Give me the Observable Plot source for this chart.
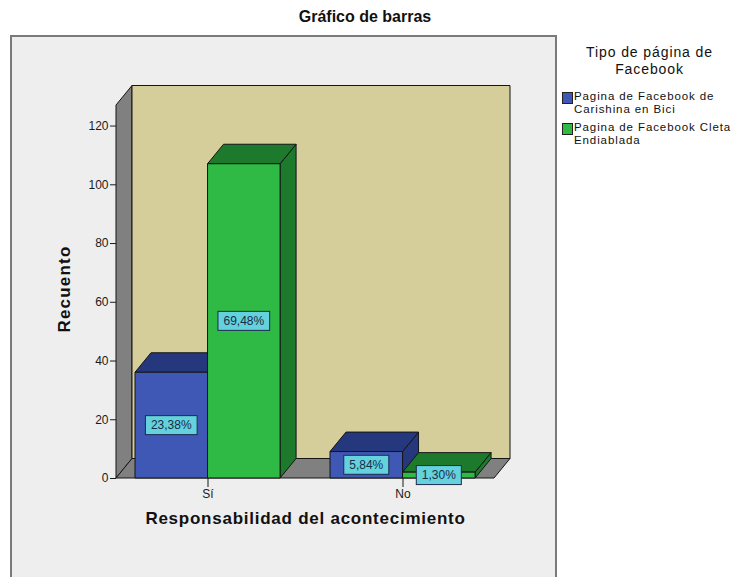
<!DOCTYPE html>
<html>
<head>
<meta charset="utf-8">
<script src="https://cdn.jsdelivr.net/npm/d3@7"></script>
<script src="https://cdn.jsdelivr.net/npm/@observablehq/plot@0.6"></script>
<style>
  body { margin: 0; background: #ffffff; font-family: Arial, "Liberation Sans", sans-serif; }
  #wrap { position: relative; width: 733px; height: 577px; overflow: hidden; background: #ffffff; }
  #frame { position: absolute; left: 10px; top: 35px; width: 547px; height: 580px; background: #eeeeee; border: 2px solid #7a7a7a; box-sizing: border-box; }
  #title { position: absolute; left: 0; width: 730px; top: 8px; text-align: center; font-weight: bold; font-size: 16px; color: #111; }
  #chart { position: absolute; left: 0; top: 0; }
  #legend { position: absolute; left: 560px; top: 44px; width: 173px; color: #111; }
  #legend .ltitle { text-align: center; font-size: 14px; letter-spacing: 0.9px; line-height: 17px; margin-left: 6px; }
  #legend .item { position: relative; margin-top: 5px; height: 26px; }
  #legend .sw { position: absolute; left: 2px; top: 2px; width: 11px; height: 12px; border: 1px solid #222; box-sizing: border-box; }
  #legend .lt { position: absolute; left: 14px; top: 0; font-size: 11.5px; letter-spacing: 0.9px; line-height: 13px; white-space: nowrap; }
</style>
</head>
<body>
<div id="wrap">
  <div id="frame"></div>
  <div id="title">Gráfico de barras</div>
  <div id="chart"></div>
  <div id="legend"></div>
</div>
<script>
// ---- data ----
const categories = ["Sí", "No"];
const seriesNames = ["Pagina de Facebook de Carishina en Bici", "Pagina de Facebook Cleta Endiablada"];
const seriesLines = [["Pagina de Facebook de", "Carishina en Bici"], ["Pagina de Facebook Cleta", "Endiablada"]];
const countsCarishina = [36, 9];
const countsCleta = [107, 2];
const pctCarishina = ["23,38%", "5,84%"];
const pctCleta = ["69,48%", "1,30%"];
const yTicks = [0, 20, 40, 60, 80, 100, 120];
const xTitle = "Responsabilidad del acontecimiento";
const yTitle = "Recuento";
const legendTitle = ["Tipo de página de", "Facebook"];

// ---- styles ----
const frontColors = ["#3f58b6", "#2fba45"];
const darkColors = ["#26387d", "#1d7a2c"];
const wallColor = "#d5ce9b";
const sideWallColor = "#808080";
const labelFill = "#63d2dc";
const DX = 16, DY = -19.5;
const padInner = 0.256, padOuter = 0.095;
const yMax = 127;

const rows = [];
categories.forEach((c, ci) => {
  [countsCarishina, countsCleta].forEach((arr, si) => {
    rows.push({cat: c, s: si, value: arr[ci], label: (si === 0 ? pctCarishina : pctCleta)[ci]});
  });
});

const ns = "http://www.w3.org/2000/svg";
const measure = (() => { const c = document.createElement("canvas").getContext("2d"); c.font = "12px Arial"; return t => c.measureText(t).width; })();

function scene(index, scales, values, dims) {
  const {x, y} = scales;
  const g = document.createElementNS(ns, "g");
  const poly = (pts, fill) => {
    const p = document.createElementNS(ns, "polygon");
    p.setAttribute("points", pts.map(d => d.join(",")).join(" "));
    p.setAttribute("fill", fill);
    p.setAttribute("stroke", "#151515");
    p.setAttribute("stroke-width", "1");
    p.setAttribute("stroke-linejoin", "round");
    g.appendChild(p);
  };
  const step = x(categories[1]) - x(categories[0]);
  const bw = step * (1 - padInner);
  const x0 = dims.marginLeft, x1 = dims.width - dims.marginRight;
  const yb = y(0), yt = y(yMax);
  // walls & floor
  poly([[x0, yb], [x0, yt], [x0 + DX, yt + DY], [x0 + DX, yb + DY]], sideWallColor);
  poly([[x0 + DX, yt + DY], [x1 + DX, yt + DY], [x1 + DX, yb + DY], [x0 + DX, yb + DY]], wallColor);
  poly([[x0, yb], [x0 + DX, yb + DY], [x1 + DX, yb + DY], [x1, yb]], sideWallColor);
  // bars
  const boxes = [];
  for (const r of rows) {
    const bx0 = x(r.cat) + r.s * bw / 2, bx1 = bx0 + bw / 2, ty = y(r.value);
    poly([[bx1, yb], [bx1, ty], [bx1 + DX, ty + DY], [bx1 + DX, yb + DY]], darkColors[r.s]);
    poly([[bx0, ty], [bx0 + DX, ty + DY], [bx1 + DX, ty + DY], [bx1, ty]], darkColors[r.s]);
    poly([[bx0, yb], [bx0, ty], [bx1, ty], [bx1, yb]], frontColors[r.s]);
    boxes.push({cx: (bx0 + bx1) / 2, cy: y(r.value / 2), t: r.label});
  }
  for (const b of boxes) {
    const w = measure(b.t) + 11, h = 19;
    const rect = document.createElementNS(ns, "rect");
    rect.setAttribute("x", b.cx - w / 2); rect.setAttribute("y", b.cy - h / 2);
    rect.setAttribute("width", w); rect.setAttribute("height", h);
    rect.setAttribute("fill", labelFill); rect.setAttribute("stroke", "#1e2a50"); rect.setAttribute("stroke-width", "1");
    g.appendChild(rect);
    const t = document.createElementNS(ns, "text");
    t.setAttribute("x", b.cx); t.setAttribute("y", b.cy);
    t.setAttribute("text-anchor", "middle"); t.setAttribute("dy", "0.36em");
    t.setAttribute("font-size", "12"); t.setAttribute("fill", "#1c2c48");
    t.textContent = b.t;
    g.appendChild(t);
  }
  return g;
}

const plot = Plot.plot({
  width: 733,
  height: 577,
  marginLeft: 116,
  marginRight: 239,
  marginTop: 105,
  marginBottom: 99,
  style: {background: "transparent", fontFamily: "Arial, 'Liberation Sans', sans-serif", fontSize: "12px", color: "#1a1a1a"},
  x: {type: "band", domain: categories, paddingInner: padInner, paddingOuter: padOuter, label: null},
  y: {domain: [0, yMax], label: null},
  marks: [
    scene,
    Plot.axisY({ticks: yTicks, tickSize: 6, tickPadding: 2, label: null}),
    Plot.axisX({tickSize: 9, tickPadding: 2, label: null}),
    Plot.text([yTitle], {frameAnchor: "left", textAnchor: "middle", text: d => d, rotate: -90, dx: -52, dy: -3, fontWeight: "bold", fontSize: 17, fill: "#111"}),
    Plot.text([xTitle], {frameAnchor: "bottom", text: d => d, dy: 45, fontWeight: "bold", fontSize: 17, fill: "#111"})
  ]
});
d3.select(plot).selectAll("text").filter(function() { return this.textContent === yTitle; }).style("letter-spacing", "1.2px");
d3.select(plot).selectAll("text").filter(function() { return this.textContent === xTitle; }).style("letter-spacing", "0.75px");
document.getElementById("chart").appendChild(plot);

// legend
const lg = document.getElementById("legend");
lg.innerHTML = `<div class="ltitle">${legendTitle.join("<br>")}</div>` +
  seriesNames.map((s, i) => `<div class="item" title="${s}"><div class="sw" style="background:${frontColors[i]}"></div><div class="lt">${seriesLines[i].join("<br>")}</div></div>`).join("");
lg.querySelector(".item").style.marginTop = "12px";
</script>
</body>
</html>
